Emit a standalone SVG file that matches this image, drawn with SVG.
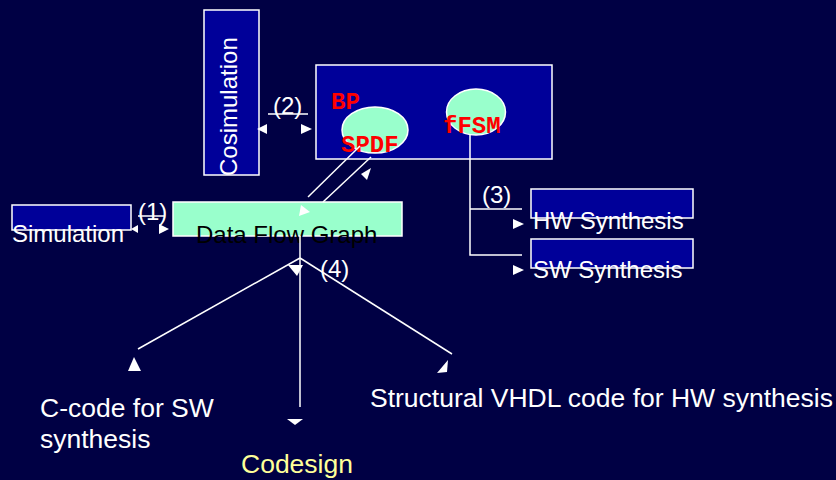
<svg xmlns="http://www.w3.org/2000/svg" width="836" height="480" viewBox="0 0 836 480">
<style>
.box{fill:#000099;stroke:#ffffff;stroke-width:1.5}
.mint{fill:#99ffcc;stroke:#ffffff;stroke-width:1.5}
.t{font-family:"Liberation Sans",Arial,sans-serif;font-size:24px;fill:#ffffff}
.big{font-size:26.5px}
.dk{fill:#000000}
.yl{fill:#ffff99}
.red{font-family:"Liberation Mono","Courier New",monospace;font-weight:bold;font-size:24px;fill:#ff0000}
.ln{stroke:#ffffff;stroke-width:1.5;fill:none}
.ah{fill:#ffffff}
</style>
<rect width="836" height="480" fill="#000044"/>
<g id="cosimulation">
<rect class="box" x="204" y="10" width="55" height="165"/>
<text class="t" transform="translate(237,176) rotate(-90)">Cosimulation</text>
</g>
<g id="bp-ffsm">
<rect class="box" x="316" y="65" width="236" height="94"/>
<ellipse class="mint" cx="375" cy="130" rx="33" ry="23"/>
<ellipse class="mint" cx="476" cy="112" rx="29.5" ry="23"/>
<text class="red" x="331" y="109">BP</text>
<text class="red" x="341" y="152">SPDF</text>
<text class="red" x="443" y="133">fFSM</text>
</g>
<g id="simulation">
<rect class="box" x="12" y="205" width="119" height="25"/>
<text class="t" x="12" y="242">Simulation</text>
</g>
<g id="dfg">
<rect class="mint" x="173" y="202" width="229" height="34"/>
<text class="t dk" x="196" y="243">Data Flow Graph</text>
</g>
<g id="hw">
<rect class="box" x="531" y="189" width="162" height="29"/>
<text class="t" x="533" y="229">HW Synthesis</text>
</g>
<g id="sw">
<rect class="box" x="531" y="239" width="162" height="29"/>
<text class="t" x="533" y="278">SW Synthesis</text>
</g>
<g id="ccode">
<text class="t big" x="40" y="417">C-code for SW</text>
<text class="t big" x="40" y="448">synthesis</text>
</g>
<g id="vhdl">
<text class="t big" x="370" y="407">Structural VHDL code for HW synthesis</text>
</g>
<g id="codesign">
<text class="t big yl" x="241" y="473">Codesign</text>
</g>
<g id="connectors">
<line class="ln" x1="268" y1="114" x2="308" y2="114"/>
<polygon class="ah" points="257,129 267,124 267,134"/>
<polygon class="ah" points="312,129 301,124 301,134"/>
<text class="t" x="273" y="114">(2)</text>
<line class="ln" x1="138" y1="216" x2="165" y2="216"/>
<polygon class="ah" points="131,229 138,225 138,233"/>
<polygon class="ah" points="169,229 159,224 159,234"/>
<text class="t" x="138" y="220">(1)</text>
<line class="ln" x1="360" y1="146" x2="308" y2="197"/>
<line class="ln" x1="371" y1="157" x2="323" y2="202"/>
<polygon class="ah" points="371,168 361,174 367,180"/>
<polygon class="ah" points="301,205 310,212 299,216"/>
<polyline class="ln" points="470,135 470,255 522,255"/>
<line class="ln" x1="470" y1="209" x2="522" y2="209"/>
<polygon class="ah" points="524,224 513,219 513,229"/>
<polygon class="ah" points="524,270 513,265 513,275"/>
<text class="t" x="482" y="203">(3)</text>
<line class="ln" x1="300" y1="236" x2="300" y2="407"/>
<line class="ln" x1="300" y1="258" x2="138" y2="349"/>
<line class="ln" x1="300" y1="258" x2="452" y2="354"/>
<polygon class="ah" points="288,265 303,265 297,276"/>
<polygon class="ah" points="134,357 128,371 141,371"/>
<polygon class="ah" points="448,360 437,373 447,372"/>
<polygon class="ah" points="287,419 303,419 295,425"/>
<text class="t" x="320" y="277">(4)</text>
</g>
</svg>
